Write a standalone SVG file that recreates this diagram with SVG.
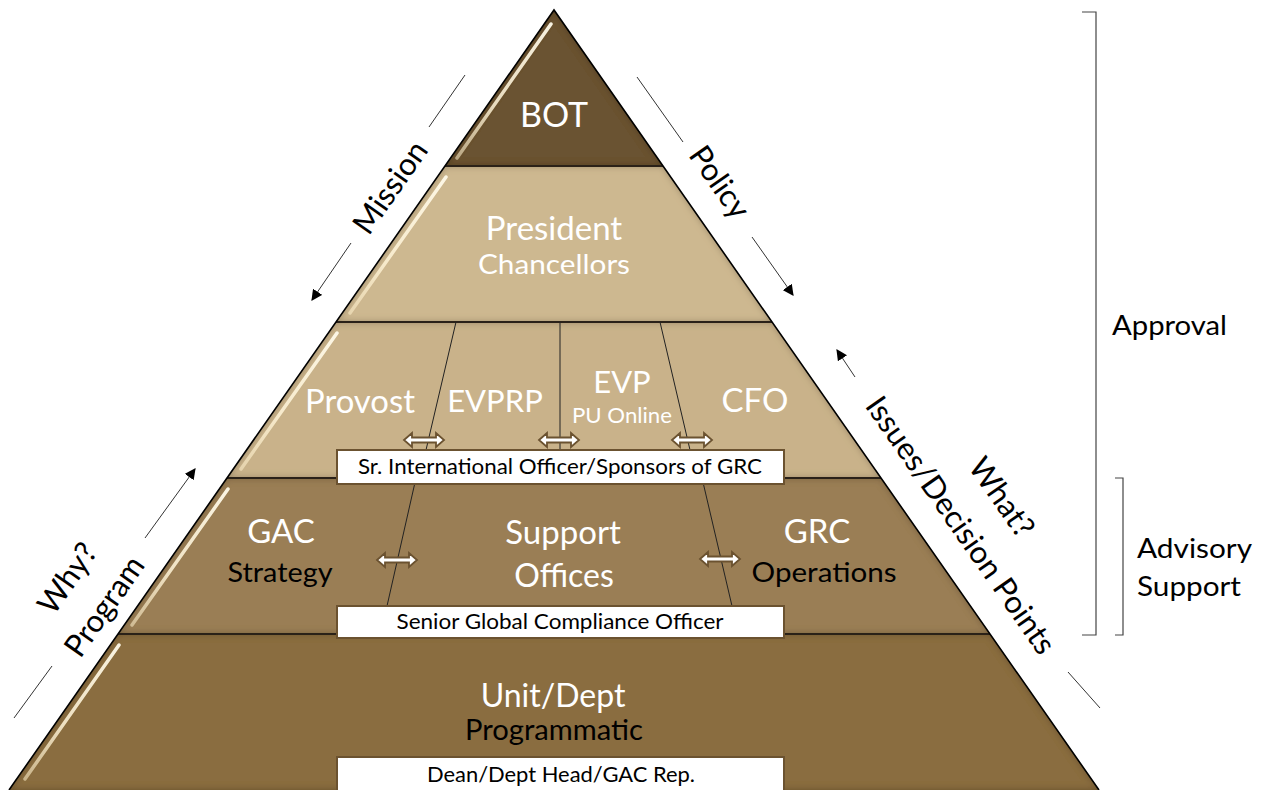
<svg xmlns="http://www.w3.org/2000/svg" width="1265" height="790" viewBox="0 0 1265 790">
<style>
text{font-family:"Lato","Open Sans","Liberation Sans",sans-serif;}
.w{fill:#ffffff;text-anchor:middle;}
.b{fill:#000000;text-anchor:middle;}
.side{fill:#000000;text-anchor:middle;font-size:31px;}
.layer{stroke:none;filter:url(#inset);}
.div{stroke:#2a2118;stroke-width:2;fill:none;}
.edge{stroke:#000;stroke-width:1.6;fill:none;stroke-linejoin:miter;}
.streak{stroke:url(#sg);stroke-width:3.5;stroke-linecap:round;fill:none;}
.box{fill:#ffffff;stroke:#6b5230;stroke-width:2;}
.bt{fill:#000;text-anchor:middle;font-size:21px;}
.thin{stroke:#333;stroke-width:1;fill:none;}
.arr{stroke:#333;stroke-width:1;fill:none;marker-end:url(#ah);}
.sep{stroke:#222;stroke-width:1;fill:none;}
.brk{stroke:#444;stroke-width:1.2;fill:none;}
.rt{fill:#000;font-size:27px;}
</style>
<defs>
<filter id="inset" x="-5%" y="-5%" width="110%" height="110%">
<feComponentTransfer in="SourceAlpha" result="inv"><feFuncA type="table" tableValues="1 0"/></feComponentTransfer>
<feGaussianBlur in="inv" stdDeviation="3.5" result="blur"/>
<feFlood flood-color="#2a1a05" flood-opacity="0.6"/>
<feComposite in2="blur" operator="in" result="sh"/>
<feComposite in="sh" in2="SourceAlpha" operator="in" result="ins"/>
<feMerge><feMergeNode in="SourceGraphic"/><feMergeNode in="ins"/></feMerge>
</filter>
<linearGradient id="sg" x1="0" y1="0" x2="0" y2="1">
<stop offset="0" stop-color="#fffaea" stop-opacity="0.95"/>
<stop offset="0.6" stop-color="#fff4d8" stop-opacity="0.85"/>
<stop offset="1" stop-color="#fff0cc" stop-opacity="0.55"/>
</linearGradient>
<marker id="ah" viewBox="0 0 10 10" refX="9" refY="5" markerWidth="11" markerHeight="11" markerUnits="userSpaceOnUse" orient="auto">
<path d="M0,0 L10,5 L0,10 Z" fill="#000"/>
</marker>
<path id="dbl" d="M-20,0 L-12,-7 L-12,-2.5 L12,-2.5 L12,-7 L20,0 L12,7 L12,2.5 L-12,2.5 L-12,7 Z" fill="#ffffff" stroke="#6b5230" stroke-width="1.8" stroke-linejoin="miter"/>
</defs>
<rect width="1265" height="790" fill="#ffffff"/>

<g id="layer-bot">
<polygon class="layer" points="554,10 663,166 445,166" fill="#6b5331"/>
<line class="streak" x1="551" y1="24" x2="457" y2="158"/>
<text class="w" x="554" y="127" font-size="34">BOT</text>
</g>

<g id="layer-president">
<polygon class="layer" points="445,166 663,166 772,322 336,322" fill="#cdb890"/>
<line class="streak" x1="446" y1="177" x2="350" y2="313"/>
<text class="w" x="554" y="240" font-size="33">President</text>
<text class="w" x="554" y="274" font-size="27" textLength="152" lengthAdjust="spacingAndGlyphs">Chancellors</text>
</g>

<g id="layer-middle">
<polygon class="layer" points="336,322 772,322 881,478 227,478" fill="#c9b28a"/>
<line class="streak" x1="337" y1="333" x2="241" y2="469"/>
<text class="w" x="360" y="413" font-size="32" textLength="110" lengthAdjust="spacingAndGlyphs">Provost</text>
<text class="w" x="495" y="412" font-size="31">EVPRP</text>
<text class="w" x="622" y="393" font-size="31">EVP</text>
<text class="w" x="622" y="423" font-size="21" textLength="100" lengthAdjust="spacingAndGlyphs">PU Online</text>
<text class="w" x="755" y="412" font-size="33">CFO</text>
</g>

<g id="layer-advisory">
<polygon class="layer" points="227,478 881,478 990,634 118,634" fill="#9a7e54"/>
<line class="streak" x1="228" y1="489" x2="132" y2="625"/>
<text class="w" x="281" y="543" font-size="33">GAC</text>
<text class="b" x="280" y="582" font-size="27" textLength="105" lengthAdjust="spacingAndGlyphs">Strategy</text>
<text class="w" x="563" y="544" font-size="33">Support</text>
<text class="w" x="564" y="587" font-size="32">Offices</text>
<text class="w" x="817" y="543" font-size="33">GRC</text>
<text class="b" x="824" y="582" font-size="27" textLength="145" lengthAdjust="spacingAndGlyphs">Operations</text>
</g>

<g id="layer-unit">
<polygon class="layer" points="118,634 990,634 1099,790 9,790" fill="#8a6d41"/>
<line class="streak" x1="119" y1="645" x2="25" y2="779"/>
<text class="w" x="553" y="707" font-size="32">Unit/Dept</text>
<text class="b" x="554" y="740" font-size="28" textLength="178" lengthAdjust="spacingAndGlyphs">Programmatic</text>
</g>

<g id="pyramid-lines">
<line class="div" x1="445" y1="166" x2="663" y2="166"/>
<line class="div" x1="336" y1="322" x2="772" y2="322"/>
<line class="div" x1="227" y1="478" x2="881" y2="478"/>
<line class="div" x1="118" y1="634" x2="990" y2="634"/>
<polyline class="edge" points="9,790 554,10 1099,790"/>
</g>

<g id="connectors">
<line class="sep" x1="456" y1="322" x2="426" y2="450"/>
<line class="sep" x1="560" y1="322" x2="560" y2="450"/>
<line class="sep" x1="660" y1="322" x2="690" y2="450"/>
<line class="sep" x1="416" y1="478" x2="387" y2="606"/>
<line class="sep" x1="702" y1="478" x2="732" y2="606"/>
<use href="#dbl" x="424" y="440"/>
<use href="#dbl" x="559" y="440"/>
<use href="#dbl" x="692" y="440"/>
<use href="#dbl" x="397" y="560"/>
<use href="#dbl" x="720" y="559"/>
<line class="thin" x1="465" y1="75" x2="429" y2="127"/>
<line class="arr" x1="351" y1="243" x2="312" y2="300"/>
<line class="thin" x1="637" y1="77" x2="683" y2="142"/>
<line class="arr" x1="752" y1="237" x2="793" y2="295"/>
<line class="arr" x1="855" y1="377" x2="837" y2="350"/>
<line class="thin" x1="1068" y1="672" x2="1100" y2="708"/>
<line class="arr" x1="145" y1="538" x2="195" y2="469"/>
<line class="thin" x1="52" y1="666" x2="14" y2="718"/>
</g>

<g id="box-sio">
<rect class="box" x="337" y="450" width="447" height="34"/>
<text class="bt" x="560" y="474" textLength="404" lengthAdjust="spacingAndGlyphs">Sr. International Officer/Sponsors of GRC</text>
</g>
<g id="box-sgco">
<rect class="box" x="337" y="606" width="447" height="32"/>
<text class="bt" x="560" y="629" textLength="327" lengthAdjust="spacingAndGlyphs">Senior Global Compliance Officer</text>
</g>
<g id="box-dean">
<rect class="box" x="337" y="757" width="447" height="40"/>
<text class="bt" x="561" y="782" textLength="268" lengthAdjust="spacingAndGlyphs">Dean/Dept Head/GAC Rep.</text>
</g>

<g id="label-mission"><text class="side" transform="translate(390,187) rotate(-55)" y="11">Mission</text></g>
<g id="label-policy"><text class="side" transform="translate(720,182) rotate(55)" y="11">Policy</text></g>
<g id="label-what"><text class="side" transform="translate(1002,497) rotate(55)" y="11">What?</text></g>
<g id="label-issues"><text class="side" transform="translate(961,525) rotate(55)" y="11">Issues/Decision Points</text></g>
<g id="label-why"><text class="side" transform="translate(67,578) rotate(-55)" y="11">Why?</text></g>
<g id="label-program"><text class="side" transform="translate(104,606) rotate(-55)" y="11">Program</text></g>

<g id="bracket-approval">
<path class="brk" d="M1082,12 H1096 V635 H1082"/>
<text class="rt" x="1112" y="335" textLength="115" lengthAdjust="spacingAndGlyphs">Approval</text>
</g>
<g id="bracket-advisory">
<path class="brk" d="M1115,478 H1123 V635 H1115"/>
<text class="rt" x="1137" y="558" textLength="115" lengthAdjust="spacingAndGlyphs">Advisory</text>
<text class="rt" x="1137" y="596" textLength="104" lengthAdjust="spacingAndGlyphs">Support</text>
</g>
</svg>
